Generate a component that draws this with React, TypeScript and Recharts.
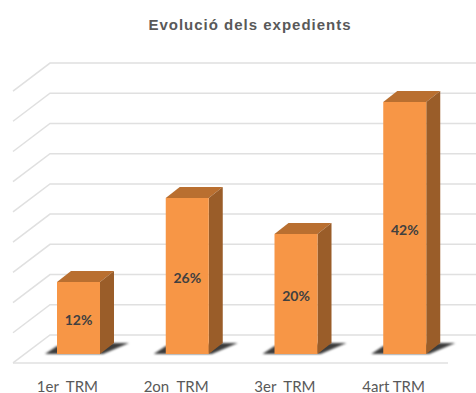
import { BarChart, Bar, XAxis, YAxis, LabelList, ReferenceLine } from "recharts";

const categories = ["1er\u00a0 TRM", "2on\u00a0 TRM", "3er\u00a0 TRM", "4art TRM"];
const percentages = [12, 26, 20, 42];
const wallTicks = [0, 5, 10, 15, 20, 25, 30, 35, 40, 45];

const chartData = categories.map((name, i) => ({ name, value: percentages[i] }));

const GRID = "#e0e0e0";
const FRONT = "#f79646";
const TOP = "#b96f30";
const SIDE = "#9a5d29";

// how far the back wall sits behind the front edge of the floor
const WALL_DX = 37;
const WALL_DY = 28;
const FRONT_LEFT = 13;
const FLOOR_RIGHT = 448;
const BAR_DX = 14;
const BAR_DY = 11;

function WallLine({ y1, isFloor }: any) {
	const back = FRONT_LEFT + WALL_DX;
	return (
		<g fill="none" stroke={GRID} strokeWidth={1.5}>
			<polyline points={`${FRONT_LEFT},${y1 + WALL_DY} ${back},${y1} 476,${y1}`} />
			{isFloor && <line x1={FRONT_LEFT} y1={y1 + WALL_DY} x2={FLOOR_RIGHT} y2={y1 + WALL_DY} />}
		</g>
	);
}

function Box3D({ x, y, width, height }: any) {
	const r = x + width;
	const b = y + height;
	return (
		<g>
			<polygon
				points={`${x - 12},${b} ${x},${b - 8} ${r + BAR_DX},${b - BAR_DY} ${r + BAR_DX + 15},${b - BAR_DY} ${r + 3},${b}`}
				fill="#3c3c3c"
				style={{ filter: "blur(1px)" }}
			/>
			<polygon
				points={`${x},${y} ${x + BAR_DX},${y - BAR_DY} ${r + BAR_DX},${y - BAR_DY} ${r},${y}`}
				fill={TOP}
			/>
			<polygon
				points={`${r},${y} ${r + BAR_DX},${y - BAR_DY} ${r + BAR_DX},${b - BAR_DY} ${r},${b}`}
				fill={SIDE}
			/>
			<rect x={x} y={y} width={width} height={height} fill={FRONT} />
		</g>
	);
}

function ShiftedTick({ x, y, payload }: any) {
	return (
		<text x={x - 11} y={y + 32} textAnchor="middle" fontFamily="Lato" fontSize={15} fill="#595959">
			{payload.value}
		</text>
	);
}

export default function App() {
	return (
		<div style={{ position: "absolute", left: 0, top: 0, width: 476, height: 393, background: "#fff" }}>
			<BarChart
				width={476}
				height={393}
				data={chartData}
				margin={{ top: 54, right: 17, bottom: 0, left: 24 }}
			>
				<text
					x={250}
					y={30}
					textAnchor="middle"
					fontFamily="Liberation Sans"
					fontWeight="bold"
					fontSize={15}
					letterSpacing={1}
					fill="#595959"
				>
					Evolució dels expedients
				</text>
				<XAxis
					dataKey="name"
					axisLine={false}
					tickLine={false}
					height={39}
					tick={<ShiftedTick />}
					tickMargin={0}
					interval={0}
				/>
				<YAxis hide domain={[0, 50]} />
				<YAxis hide yAxisId="wall" domain={[-3.15, 46.5]} allowDataOverflow />
				{wallTicks.map((tick) => (
					<ReferenceLine
						key={tick}
						yAxisId="wall"
						y={tick}
						zIndex={-90}
						shape={(props: any) => <WallLine {...props} isFloor={tick === 0} />}
					/>
				))}
				<Bar dataKey="value" barSize={43} shape={<Box3D />} isAnimationActive={false}>
					<LabelList
						dataKey="value"
						position="center"
						formatter={(v: any) => `${v}%`}
						fontFamily="Lato"
						fontWeight="bold"
						fontSize={14}
						fill="#404040"
						dy={2}
					/>
				</Bar>
			</BarChart>
		</div>
	);
}
